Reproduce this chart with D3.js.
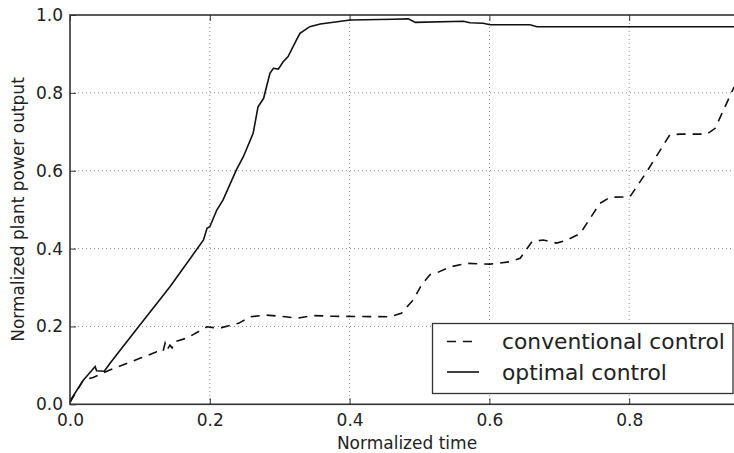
<!DOCTYPE html>
<html>
<head>
<meta charset="utf-8">
<script src="https://cdn.jsdelivr.net/npm/d3@7/dist/d3.min.js"></script>
<style>
  html, body { margin: 0; padding: 0; background: #fff; }
  svg { display: block; font-family: "DejaVu Sans", sans-serif; }
</style>
</head>
<body>
<svg id="chart" width="734" height="453"></svg>
<script>
// Normalized time samples and power output for each control scheme
const optimalT = [0, 0.0024, 0.019, 0.036, 0.038, 0.049, 0.057, 0.098, 0.143, 0.191, 0.196, 0.200,
  0.210, 0.219, 0.238, 0.248, 0.262, 0.269, 0.277, 0.286, 0.291, 0.298, 0.305, 0.312, 0.324,
  0.329, 0.343, 0.358, 0.401, 0.4625, 0.484, 0.494, 0.563, 0.572, 0.591, 0.601, 0.658, 0.668, 0.95];
const optimalP = [0.005, 0.015, 0.062, 0.097, 0.086, 0.085, 0.105, 0.199, 0.302, 0.422, 0.452, 0.456,
  0.499, 0.525, 0.602, 0.636, 0.696, 0.764, 0.786, 0.850, 0.863, 0.861, 0.880, 0.893, 0.936,
  0.953, 0.970, 0.977, 0.987, 0.989, 0.990, 0.981, 0.984, 0.980, 0.979, 0.975, 0.975, 0.970, 0.970];

const conventionalT = [0, 0.019, 0.033, 0.057, 0.100, 0.124, 0.133, 0.136, 0.139, 0.143, 0.146, 0.150,
  0.167, 0.196, 0.205, 0.217, 0.241, 0.258, 0.281, 0.308, 0.324, 0.348, 0.377, 0.458, 0.474,
  0.491, 0.503, 0.515, 0.525, 0.544, 0.568, 0.601, 0.629, 0.644, 0.661, 0.677, 0.696, 0.711,
  0.730, 0.758, 0.773, 0.801, 0.825, 0.858, 0.873, 0.911, 0.923, 0.95];
const conventionalP = [0.005, 0.062, 0.069, 0.088, 0.118, 0.135, 0.135, 0.157, 0.140, 0.152, 0.145, 0.161,
  0.170, 0.199, 0.197, 0.197, 0.208, 0.225, 0.229, 0.225, 0.221, 0.228, 0.226, 0.225, 0.234,
  0.268, 0.307, 0.333, 0.338, 0.353, 0.362, 0.360, 0.366, 0.375, 0.418, 0.422, 0.414, 0.422,
  0.439, 0.516, 0.532, 0.533, 0.597, 0.692, 0.694, 0.694, 0.709, 0.815];

const xTicks = [0.0, 0.2, 0.4, 0.6, 0.8];
const yTicks = [0.0, 0.2, 0.4, 0.6, 0.8, 1.0];
const xLabel = "Normalized time";
const yLabel = "Normalized plant power output";
const seriesNames = ["conventional control", "optimal control"];

const svg = d3.select("#chart");
// plot frame; the right edge sits just past the viewport
const plotLeft = 70, plotRight = 744, plotTop = 15, plotBottom = 404.3;
const pxPerUnit = 699; // pixels per unit of normalized time
const x = d3.scaleLinear().domain([0, (plotRight - plotLeft) / pxPerUnit]).range([plotLeft, plotRight]);
const y = d3.scaleLinear().domain([0, 1]).range([plotBottom, plotTop]);
const dashed = "9,7";

// grid
const grid = svg.append("g").attr("stroke", "#8a8a8a").attr("stroke-width", 1).attr("stroke-dasharray", "1,3");
grid.selectAll("line.v").data(xTicks.filter(d => d > 0)).join("line").attr("class", "v")
  .attr("x1", d => x(d)).attr("x2", d => x(d)).attr("y1", plotTop).attr("y2", plotBottom);
grid.selectAll("line.h").data(yTicks.filter(d => d > 0 && d < 1)).join("line").attr("class", "h")
  .attr("y1", d => y(d)).attr("y2", d => y(d)).attr("x1", plotLeft).attr("x2", plotRight);

// axes with inward ticks
const xAxis = d3.axisBottom(x).tickValues(xTicks).tickFormat(d3.format(".1f")).tickSizeInner(-6).tickSizeOuter(0).tickPadding(10);
const yAxis = d3.axisLeft(y).tickValues(yTicks).tickFormat(d3.format(".1f")).tickSizeInner(-6).tickSizeOuter(0).tickPadding(7);
const xTop = d3.axisTop(x).tickValues(xTicks).tickFormat("").tickSizeInner(-6).tickSizeOuter(0);

const gx = svg.append("g").attr("transform", `translate(0,${plotBottom})`).call(xAxis);
const gy = svg.append("g").attr("transform", `translate(${plotLeft},0)`).call(yAxis);
const gt = svg.append("g").attr("transform", `translate(0,${plotTop})`).call(xTop);
[gx, gy, gt].forEach(g => {
  g.select(".domain").remove();
  g.selectAll(".tick line").attr("stroke", "#333").attr("stroke-width", 1);
  g.selectAll(".tick text").attr("fill", "#222").style("font-size", "17px").style("font-family", "DejaVu Sans");
});

// series lines
const line = d3.line().x(d => x(d[0])).y(d => y(d[1]));
const conv = d3.zip(conventionalT, conventionalP);
const opt = d3.zip(optimalT, optimalP);
const plot = svg.append("g");
plot.append("path").datum(conv).attr("d", line).attr("fill", "none")
  .attr("stroke", "#111").attr("stroke-width", 1.6).attr("stroke-dasharray", dashed);
plot.append("path").datum(opt).attr("d", line).attr("fill", "none")
  .attr("stroke", "#111").attr("stroke-width", 1.6);

// frame
svg.append("rect").attr("x", plotLeft).attr("y", plotTop).attr("width", plotRight - plotLeft).attr("height", plotBottom - plotTop)
  .attr("fill", "none").attr("stroke", "#333").attr("stroke-width", 1.6);

// legend
const lg = svg.append("g");
lg.append("rect").attr("x", 432.5).attr("y", 323.5).attr("width", 300.5).attr("height", 70)
  .attr("fill", "#fff").attr("stroke", "#333").attr("stroke-width", 1.3);
const rows = [{name: seriesNames[0], dash: dashed, cy: 341.5}, {name: seriesNames[1], dash: null, cy: 372}];
rows.forEach(r => {
  lg.append("line").attr("x1", 447).attr("x2", 479).attr("y1", r.cy).attr("y2", r.cy)
    .attr("stroke", "#111").attr("stroke-width", 1.6).attr("stroke-dasharray", r.dash);
  lg.append("text").attr("x", 502).attr("y", r.cy).attr("dy", "0.35em").attr("fill", "#222")
    .style("font-size", "21.8px").text(r.name);
});

// axis titles
svg.append("text").attr("x", 407).attr("y", 449).attr("text-anchor", "middle").attr("fill", "#222")
  .style("font-size", "17px").text(xLabel);
svg.append("text").attr("transform", `translate(24,209.5) rotate(-90)`).attr("text-anchor", "middle").attr("fill", "#222")
  .style("font-size", "17px").text(yLabel);
</script>
</body>
</html>
